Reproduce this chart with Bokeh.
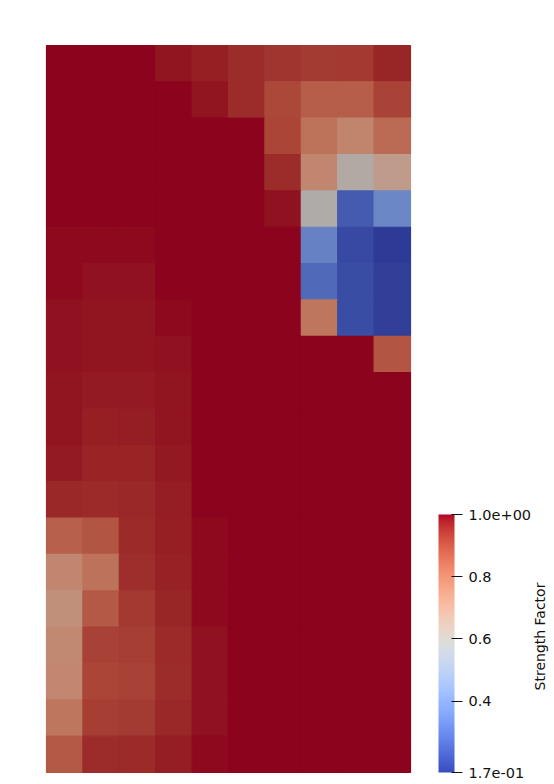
import math
from bokeh.plotting import figure
from bokeh.models import (ColumnDataSource, LinearColorMapper, ColorBar, FixedTicker,
                          Label, Range1d)
from bokeh.transform import linear_cmap
from bokeh.embed import file_html
from bokeh.resources import INLINE

# ---------------- data ----------------
columns = list(range(10))
rows = list(range(20))  # row 0 = top
low_value = 0.17
high_value = 1.0
bar_ticks = [0.17, 0.4, 0.6, 0.8, 1.0]
bar_labels = ["1.7e-01", "0.4", "0.6", "0.8", "1.0e+00"]
bar_title = "Strength Factor"

strength = [
    [1.0, 1.0, 1.0, 0.987, 0.974, 0.953, 0.940, 0.927, 0.930, 0.964],
    [1.0, 1.0, 1.0, 1.0, 0.987, 0.953, 0.902, 0.856, 0.856, 0.910],
    [1.0, 1.0, 1.0, 1.0, 1.0, 1.0, 0.908, 0.806, 0.759, 0.828],
    [1.0, 1.0, 1.0, 1.0, 1.0, 1.0, 0.953, 0.753, 0.610, 0.680],
    [1.0, 1.0, 1.0, 1.0, 1.0, 1.0, 0.990, 0.597, 0.248, 0.372],
    [0.994, 0.994, 0.994, 1.0, 1.0, 1.0, 1.0, 0.353, 0.203, 0.170],
    [0.994, 0.988, 0.988, 1.0, 1.0, 1.0, 1.0, 0.286, 0.214, 0.181],
    [0.989, 0.985, 0.985, 0.994, 1.0, 1.0, 1.0, 0.798, 0.214, 0.181],
    [0.988, 0.984, 0.984, 0.990, 1.0, 1.0, 1.0, 1.0, 1.0, 0.875],
    [0.986, 0.979, 0.979, 0.986, 1.0, 1.0, 1.0, 1.0, 1.0, 1.0],
    [0.984, 0.974, 0.977, 0.984, 1.0, 1.0, 1.0, 1.0, 1.0, 1.0],
    [0.979, 0.967, 0.965, 0.981, 1.0, 1.0, 1.0, 1.0, 1.0, 1.0],
    [0.961, 0.956, 0.961, 0.976, 1.0, 1.0, 1.0, 1.0, 1.0, 1.0],
    [0.849, 0.875, 0.956, 0.974, 0.994, 1.0, 1.0, 1.0, 1.0, 1.0],
    [0.753, 0.803, 0.950, 0.970, 0.994, 1.0, 1.0, 1.0, 1.0, 1.0],
    [0.721, 0.865, 0.930, 0.964, 0.994, 1.0, 1.0, 1.0, 1.0, 1.0],
    [0.741, 0.913, 0.921, 0.956, 0.989, 1.0, 1.0, 1.0, 1.0, 1.0],
    [0.750, 0.908, 0.915, 0.953, 0.989, 1.0, 1.0, 1.0, 1.0, 1.0],
    [0.798, 0.919, 0.928, 0.961, 0.989, 1.0, 1.0, 1.0, 1.0, 1.0],
    [0.865, 0.953, 0.956, 0.976, 0.994, 1.0, 1.0, 1.0, 1.0, 1.0],
]

# ---------------- Moreland cool-to-warm palette ----------------
REF = (0.95047, 1.0, 1.08883)


def _lin(c):
    c = c / 255.0
    return c / 12.92 if c <= 0.04045 else ((c + 0.055) / 1.055) ** 2.4


def _delin(c):
    c = min(max(c, 0.0), 1.0)
    return 12.92 * c if c <= 0.0031308 else 1.055 * c ** (1 / 2.4) - 0.055


def _f(t):
    return t ** (1 / 3) if t > 0.008856 else 7.787 * t + 16 / 116


def _finv(t):
    return t ** 3 if t ** 3 > 0.008856 else (t - 16 / 116) / 7.787


def rgb2msh(rgb):
    r, g, b = (_lin(v) for v in rgb)
    X = 0.4124 * r + 0.3576 * g + 0.1805 * b
    Y = 0.2126 * r + 0.7152 * g + 0.0722 * b
    Z = 0.0193 * r + 0.1192 * g + 0.9505 * b
    fx, fy, fz = _f(X / REF[0]), _f(Y / REF[1]), _f(Z / REF[2])
    L = 116 * fy - 16
    A = 500 * (fx - fy)
    B = 200 * (fy - fz)
    M = math.sqrt(L * L + A * A + B * B)
    s = math.acos(L / M) if M > 0.001 else 0.0
    h = math.atan2(B, A) if s > 0.001 else 0.0
    return M, s, h


def msh2rgb(M, s, h):
    L = M * math.cos(s)
    A = M * math.sin(s) * math.cos(h)
    B = M * math.sin(s) * math.sin(h)
    fy = (L + 16) / 116
    fx = A / 500 + fy
    fz = fy - B / 200
    X, Y, Z = REF[0] * _finv(fx), REF[1] * _finv(fy), REF[2] * _finv(fz)
    r = 3.2406 * X - 1.5372 * Y - 0.4986 * Z
    g = -0.9689 * X + 1.8758 * Y + 0.0415 * Z
    b = 0.0557 * X - 0.2040 * Y + 1.0570 * Z
    return tuple(255.0 * _delin(v) for v in (r, g, b))


def adjust_hue(Ms, ss, hs, Mu):
    if Ms >= Mu:
        return hs
    spin = ss * math.sqrt(Mu * Mu - Ms * Ms) / (Ms * math.sin(ss))
    return hs + spin if hs > -math.pi / 3 else hs - spin


def diverging(c1, c2, t):
    M1, s1, h1 = rgb2msh(c1)
    M2, s2, h2 = rgb2msh(c2)
    dh = abs(h1 - h2)
    if dh > math.pi:
        dh = 2 * math.pi - dh
    if s1 > 0.05 and s2 > 0.05 and dh > math.pi / 3:
        Mmid = max(M1, M2, 88.0)
        if t < 0.5:
            M2, s2, h2 = Mmid, 0.0, 0.0
            t = 2 * t
        else:
            M1, s1, h1 = Mmid, 0.0, 0.0
            t = 2 * t - 1
    if s1 < 0.05 and s2 > 0.05:
        h1 = adjust_hue(M2, s2, h2, M1)
    elif s2 < 0.05 and s1 > 0.05:
        h2 = adjust_hue(M1, s1, h1, M2)
    return msh2rgb((1 - t) * M1 + t * M2, (1 - t) * s1 + t * s2, (1 - t) * h1 + t * h2)


def to_hex(rgb, k=1.0):
    return "#%02x%02x%02x" % tuple(int(round(min(255, max(0, v * k)))) for v in rgb)


cool, warm = (59, 76, 192), (180, 4, 38)
raw = [diverging(cool, warm, i / 255) for i in range(256)]
bar_palette = [to_hex(c) for c in raw]
cell_palette = [to_hex(c, 0.78) for c in raw]   # shaded surface colours

# ---------------- table ----------------
xs, ys, vs = [], [], []
for r in rows:
    for c in columns:
        xs.append(c + 0.5)
        ys.append(len(rows) - r - 0.5)
        vs.append(strength[r][c])
src = ColumnDataSource(dict(x=xs, y=ys, v=vs))

# ---------------- figure ----------------
W, H = 554, 784
cell_w = 36.4
cell_h = 36.35
left_px, top_px = 46, 45
ncol, nrow = len(columns), len(rows)
x0 = -left_px / cell_w
x1 = ncol + (W - left_px - ncol * cell_w) / cell_w
y1 = nrow + top_px / cell_h
y0 = -(H - top_px - nrow * cell_h) / cell_h

p = figure(width=W, height=H, x_range=Range1d(x0, x1), y_range=Range1d(y0, y1),
           output_backend="svg", toolbar_location=None,
           x_axis_location=None, y_axis_location=None, min_border=0)
p.grid.visible = False
p.outline_line_color = None
p.background_fill_color = "white"
p.border_fill_color = "white"

cmap = linear_cmap("v", cell_palette, low_value, high_value)
p.rect(x="x", y="y", width=1, height=1, source=src,
       fill_color=cmap, line_color=cmap, line_width=1.2)

mapper = LinearColorMapper(palette=bar_palette, low=low_value, high=high_value)
cb = ColorBar(color_mapper=mapper, location=(438, 12), width=16, height=258, padding=0,
              ticker=FixedTicker(ticks=bar_ticks),
              major_label_overrides={t: l for t, l in zip(bar_ticks, bar_labels)},
              major_tick_in=3, major_tick_out=8, major_tick_line_color="#111111",
              major_tick_line_width=1,
              major_label_text_font="DejaVu Sans", major_label_text_font_size="14.5px",
              major_label_text_color="#111111", label_standoff=6,
              bar_line_color=None, border_line_color=None, background_fill_alpha=0)
p.add_layout(cb)

title = Label(x=539.5, y=H - 636, x_units="screen", y_units="screen", text=bar_title,
              angle=math.pi / 2, text_align="center", text_baseline="middle",
              text_font="DejaVu Sans", text_font_size="14px", text_color="#111111")
p.add_layout(title)

open("out.html", "w").write(file_html(p, INLINE))
